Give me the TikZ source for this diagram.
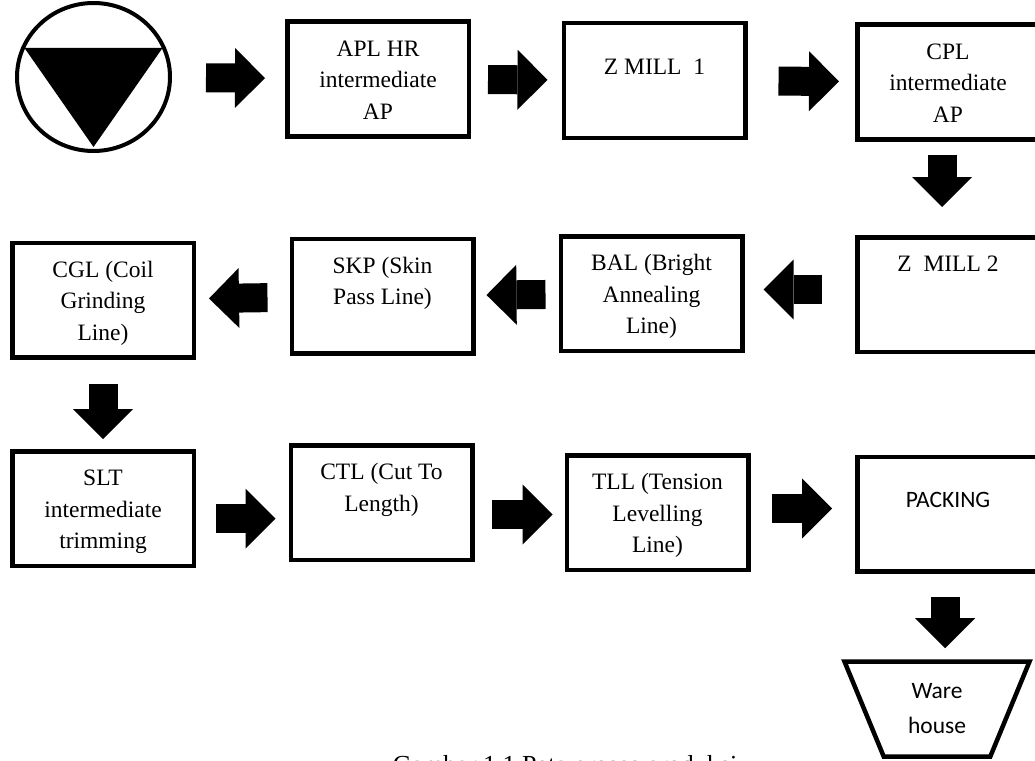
\documentclass[tikz,border=0pt]{standalone}
\usepackage{fontspec}
\setmainfont{Liberation Serif}
\newfontfamily\calibri{Carlito}
\usepackage{tikz}
\usetikzlibrary{shapes.geometric,arrows.meta}
\newcommand{\boxtext}[2][34.5pt]{\parbox[c][114.5pt][t]{181.5pt}{\centering\rule{0pt}{#1}#2}}
\tikzset{
   process node/.style={rectangle,draw,fill=white,line width=4.5pt,inner sep=0pt,font=\fontsize{23.5}{31.5}\selectfont},
   start node/.style={ellipse,draw,line width=4pt,minimum width=153pt,minimum height=148pt,inner sep=0pt,
        path picture={\fill (path picture bounding box.center) ++(-69pt,29pt) -- ++(138pt,0pt) -- ++(-69pt,-99pt) -- cycle;}},
   store node/.style={trapezium,shape border rotate=180,trapezium angle=67,trapezium stretches=true,draw,line width=4.5pt,
        minimum width=186pt,minimum height=95pt,inner sep=0pt,align=center,font=\calibri\fontsize{23.5}{35}\selectfont},
   flow arrow/.style={line width=29pt,-{Triangle[width=60pt,length=30pt,line width=0pt]}}
}

\begin{document}
\begin{tikzpicture}[x=1pt,y=-1pt]
\useasboundingbox (0,0) rectangle (1035,760);
\clip (0,0) rectangle (1035,760);

% row 1
\node[start node] (0) at (93.5,77) {};
\node[process node] (1) at (378,79) {\boxtext{APL HR\\intermediate\\AP}};
\node[process node] (2) at (654.5,80.5) {\boxtext[50.75pt]{Z MILL\ \ 1}};
\node[process node] (3) at (948,82) {\boxtext{CPL\\intermediate\\AP}};

% row 2
\node[process node] (4) at (948,294.5) {\boxtext{Z\ \ MILL 2}};
\node[process node] (5) at (651.5,293.5) {\boxtext{BAL (Bright\\Annealing\\Line)}};
\node[process node] (6) at (382.5,296) {\boxtext{SKP (Skin\\Pass Line)}};
\node[process node] (7) at (103,300) {\boxtext{CGL (Coil\\Grinding\\Line)}};

% row 3
\node[process node] (8) at (103,508.5) {\boxtext{SLT\\intermediate\\trimming}};
\node[process node] (9) at (381.5,502.5) {\boxtext{CTL (Cut To\\Length)}};
\node[process node] (10) at (657.5,512.5) {\boxtext{TLL (Tension\\Levelling\\Line)}};
\node[process node, style={font=\calibri\fontsize{23.5}{31.5}\selectfont}] (11) at (948,514) {\boxtext[50.75pt]{PACKING}};
\node[store node] (12) at (937,709) {Ware\\house};

% caption, cut by the page edge
\node[anchor=base, inner sep=0pt, font=\fontsize{26}{30}\selectfont] (13) at (565,773) {Gambar 1.1 Peta proses produksi};

\path[flow arrow]
  (0) edge[shorten <=34pt, shorten >=20pt] (1)
  (1) edge[shorten <=17pt, shorten >=14pt] (2)
  (2) edge[shorten <=31pt, shorten >=16pt] (3)
  ([xshift=-6pt]3.south) edge[shorten <=13pt, shorten >=28pt] ([xshift=-6pt]4.north)
  ([yshift=5pt]4.west) edge[shorten <=33pt, shorten >=19pt] ([yshift=5pt]4.west -| 5.east)
  (5) edge[shorten <=13pt, shorten >=11pt] (6)
  (6) edge[shorten <=22pt, shorten >=13pt] (7)
  (7) edge[shorten <=24pt, shorten >=10pt] (8)
  ([yshift=-10pt]8.east) edge[shorten <=20pt, shorten >=13pt] ([yshift=-10pt]8.east -| 9.west)
  ([yshift=-12pt]9.east) edge[shorten <=17pt, shorten >=12pt] ([yshift=-12pt]9.east -| 10.west)
  ([yshift=4pt]10.east) edge[shorten <=21pt, shorten >=23pt] ([yshift=4pt]10.east -| 11.west)
  ([xshift=-3pt]11.south) edge[shorten <=23pt, shorten >=11pt] ([xshift=-3pt]11.south |- 12.north)
;
\end{tikzpicture}
\end{document}
